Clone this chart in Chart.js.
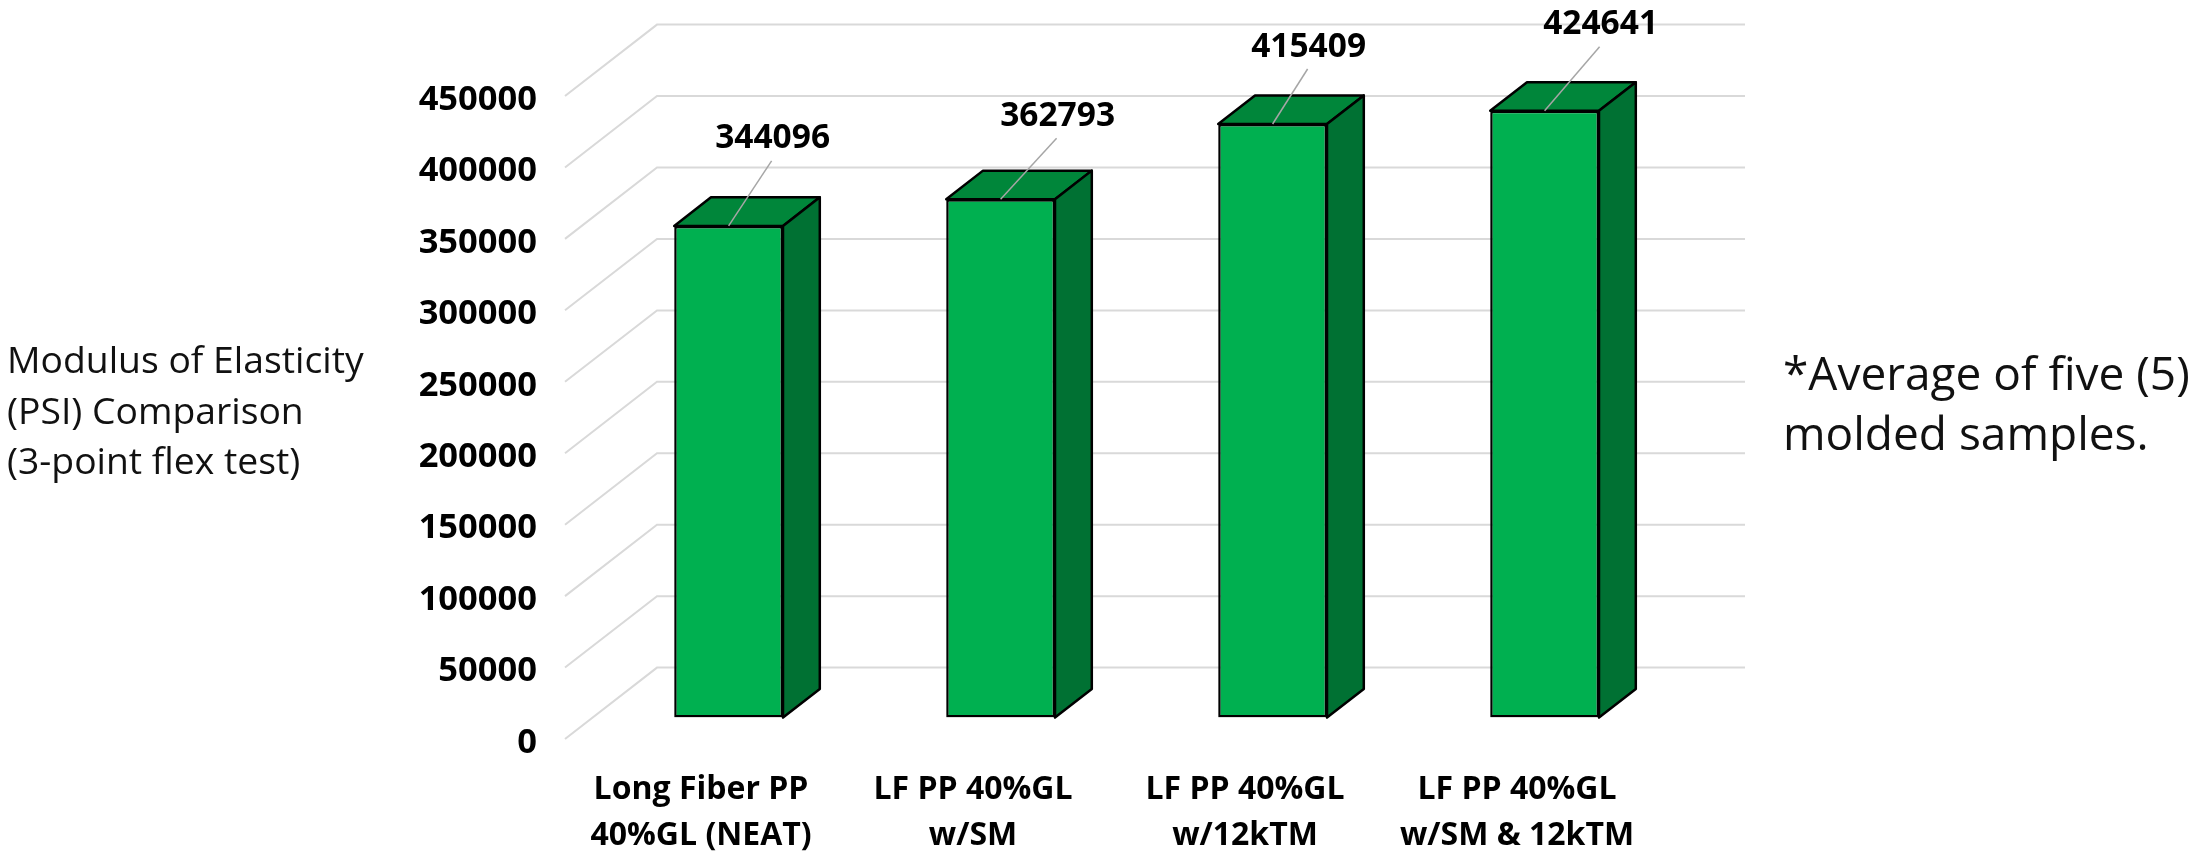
<!DOCTYPE html>
<html>
<head>
<meta charset="utf-8">
<style>
  html, body { margin: 0; padding: 0; background: #fff; width: 2196px; height: 851px; overflow: hidden; }
  #wrap { position: relative; width: 2196px; height: 851px; }
  .note { position: absolute; font-family: "Open Sans", sans-serif; color: #111; white-space: nowrap; }
  #leftNote { left: 7px; top: 334px; font-size: 37.3px; line-height: 50.5px; }
  #rightNote { left: 1783px; top: 342px; font-size: 46px; line-height: 60px; }
</style>
</head>
<body>
<div id="wrap">
  <canvas id="myChart" width="2196" height="851"></canvas>
  <div class="note" id="leftNote">Modulus of Elasticity<br>(PSI) Comparison<br>(3-point flex test)</div>
  <div class="note" id="rightNote">*Average of five (5)<br>molded samples.</div>
</div>
<script src="https://cdn.jsdelivr.net/npm/chart.js@4"></script>
<script>
const categories = [
  ['Long Fiber PP', '40%GL (NEAT)'],
  ['LF PP 40%GL', 'w/SM'],
  ['LF PP 40%GL', 'w/12kTM'],
  ['LF PP 40%GL', 'w/SM & 12kTM']
];
const modulusValues = [344096, 362793, 415409, 424641];
const tickStep = 50000;
const axisMax = 450000;

// how far the chart "floor" goes back, in px
const depthX = 92;
const depthY = 71.4;
const barFront = 0.3;   // bars sit in the middle of the floor depth
const barDepth = 0.4;

// end of the leader line relative to the top of each bar's front face
const leaderEnds = [[43, -65], [56, -61], [35, -55], [55, -64]];

const FONT = '"Open Sans", sans-serif';

const fake3d = {
  id: 'fake3d',
  beforeDatasetsDraw(chart) {
    const { ctx, chartArea: area, scales: { y } } = chart;
    ctx.save();
    ctx.strokeStyle = '#D9D9D9';
    ctx.lineWidth = 2;
    ctx.fillStyle = '#000';
    ctx.font = 'bold 34.5px ' + FONT;
    ctx.textAlign = 'right';
    ctx.textBaseline = 'middle';
    for (const tick of y.ticks) {
      const py = y.getPixelForValue(tick.value);
      ctx.beginPath();
      ctx.moveTo(area.left, py);
      ctx.lineTo(area.left + depthX, py - depthY);
      ctx.lineTo(area.right + depthX, py - depthY);
      ctx.stroke();
      // the tick labels sit a little under their line, drawn here to get that
      ctx.fillText(tick.label, area.left - 28, py + 4);
    }
    // side and top faces of the bars
    const ox = depthX * barFront, oy = depthY * barFront;
    const dx = depthX * barDepth, dy = depthY * barDepth;
    ctx.strokeStyle = '#000';
    ctx.lineWidth = 2.5;
    ctx.lineJoin = 'round';
    chart.getDatasetMeta(0).data.forEach(bar => {
      const r = bar.x + bar.width / 2 + ox;
      const l = bar.x - bar.width / 2 + ox;
      const t = bar.y - oy;
      const b = bar.base - oy;
      ctx.fillStyle = '#00863A';
      ctx.beginPath();
      ctx.moveTo(l, t);
      ctx.lineTo(l + dx, t - dy);
      ctx.lineTo(r + dx, t - dy);
      ctx.lineTo(r, t);
      ctx.closePath();
      ctx.fill();
      ctx.stroke();
      ctx.fillStyle = '#007133';
      ctx.beginPath();
      ctx.moveTo(r, t);
      ctx.lineTo(r + dx, t - dy);
      ctx.lineTo(r + dx, b - dy);
      ctx.lineTo(r, b);
      ctx.closePath();
      ctx.fill();
      ctx.stroke();
    });
    ctx.restore();
  },
  // the real bar elements are the front faces, pushed in from the front edge
  beforeDatasetDraw(chart) {
    chart.ctx.save();
    chart.ctx.translate(depthX * barFront, -depthY * barFront);
  },
  afterDatasetDraw(chart) {
    chart.ctx.restore();
  },
  afterDatasetsDraw(chart) {
    const ctx = chart.ctx;
    const ox = depthX * barFront, oy = depthY * barFront;
    ctx.save();
    ctx.textAlign = 'center';
    ctx.textBaseline = 'middle';
    ctx.font = 'bold 33.5px ' + FONT;
    chart.getDatasetMeta(0).data.forEach((bar, i) => {
      const x = bar.x + ox, y = bar.y - oy;
      const ex = x + leaderEnds[i][0], ey = y + leaderEnds[i][1];
      ctx.strokeStyle = '#A6A6A6';
      ctx.lineWidth = 1.5;
      ctx.beginPath();
      ctx.moveTo(x, y);
      ctx.lineTo(ex, ey);
      ctx.stroke();
      ctx.fillStyle = '#000';
      ctx.fillText(String(modulusValues[i]), ex + 1, ey - 22);
    });
    ctx.restore();
  }
};

Chart.defaults.font.family = FONT;

new Chart(document.getElementById('myChart'), {
  type: 'bar',
  data: {
    labels: categories,
    datasets: [{
      data: modulusValues,
      backgroundColor: '#00B050',
      borderColor: '#000',
      borderWidth: 2.5,
      borderSkipped: false,
      barPercentage: 0.4,
      categoryPercentage: 1
    }]
  },
  options: {
    responsive: false,
    animation: false,
    devicePixelRatio: 1,
    layout: { padding: { top: 96, right: 543, bottom: 0, left: 0 } },
    plugins: { legend: { display: false }, title: { display: false }, tooltip: { enabled: false } },
    scales: {
      x: {
        grid: { display: false },
        border: { display: false },
        afterFit(scale) { scale.height = 112; },
        ticks: {
          color: '#000',
          padding: 20,
          maxRotation: 0,
          autoSkip: false,
          font: { size: 32, weight: 'bold', lineHeight: 1.44 }
        }
      },
      y: {
        min: 0,
        max: axisMax,
        grid: { display: false },
        border: { display: false },
        afterFit(scale) { scale.width = 565; },
        ticks: {
          display: false,
          stepSize: tickStep,
          callback: v => String(v)
        }
      }
    }
  },
  plugins: [fake3d]
});
</script>
</body>
</html>
